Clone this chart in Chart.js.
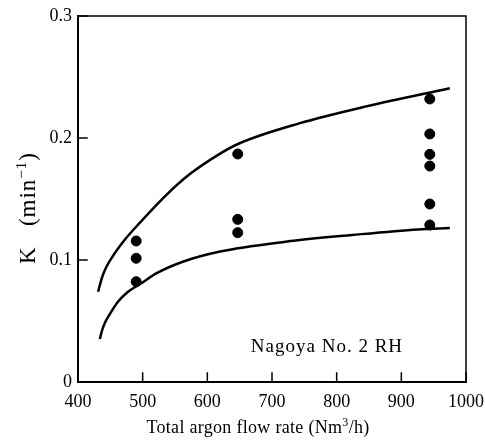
<!DOCTYPE html>
<html>
<head>
<meta charset="utf-8">
<script src="https://cdn.jsdelivr.net/npm/chart.js@4/dist/chart.umd.min.js"></script>
<style>
  html, body { margin: 0; padding: 0; background: #fff; }
  #wrap { width: 485px; height: 440px; }
</style>
</head>
<body>
<div id="wrap"><canvas id="kChart"></canvas></div>
<script>
// upper and lower bounding curves
const upperFlow = [431.2, 434.6, 438.5, 444.2, 456.9, 472.3, 492.8, 536, 572, 616, 649, 742, 844, 975];
const upperK    = [0.074, 0.0811, 0.0877, 0.0947, 0.1056, 0.1166, 0.1289, 0.153, 0.170, 0.186, 0.1955, 0.212, 0.2257, 0.2407];
const lowerFlow = [433.8, 436.9, 441.5, 449.2, 461.5, 476.9, 498, 521, 562, 618, 721, 824, 926, 975];
const lowerK    = [0.0352, 0.0418, 0.0484, 0.0557, 0.0656, 0.0738, 0.0809, 0.089, 0.0986, 0.1068, 0.115, 0.1205, 0.1251, 0.1262];

// measured points
const measFlow = [490, 490, 490, 647, 647, 647, 944, 944, 944, 944, 944, 944];
const measK    = [0.1156, 0.1014, 0.0822, 0.1869, 0.1333, 0.1224, 0.232, 0.2033, 0.1866, 0.177, 0.1459, 0.1287];

const xTicks = [400, 500, 600, 700, 800, 900, 1000];
const yTicks = [0, 0.1, 0.2, 0.3];
const yTickLabels = ['0', '0.1', '0.2', '0.3'];

const SERIF = '"Liberation Serif", "DejaVu Serif", serif';

const toPts = (xs, ys) => xs.map((x, i) => ({ x, y: ys[i] }));

// draw text runs centred on x, some of them as superscripts
function drawRuns(ctx, runs, size, x, y) {
  const fontFor = (r) => `${r.sup ? Math.round(size * 0.65) : size}px ${SERIF}`;
  let w = 0;
  runs.forEach((r) => { ctx.font = fontFor(r); w += ctx.measureText(r.t).width; });
  let cx = x - w / 2;
  runs.forEach((r) => {
    ctx.font = fontFor(r);
    ctx.fillText(r.t, cx, r.sup ? y - size * 0.4 : y);
    cx += ctx.measureText(r.t).width;
  });
}

const framePlugin = {
  id: 'frame',
  afterDraw(chart) {
    const { ctx, chartArea: a, scales } = chart;
    ctx.save();
    ctx.strokeStyle = '#000';
    ctx.fillStyle = '#000';
    ctx.lineCap = 'square';

    // left + bottom axes heavier, top + right lighter
    ctx.lineWidth = 2;
    ctx.beginPath();
    ctx.moveTo(a.left, a.top); ctx.lineTo(a.left, a.bottom); ctx.lineTo(a.right, a.bottom);
    ctx.stroke();
    ctx.lineWidth = 1.5;
    ctx.beginPath();
    ctx.moveTo(a.left, a.top); ctx.lineTo(a.right, a.top); ctx.lineTo(a.right, a.bottom);
    ctx.stroke();

    // inward tick marks
    ctx.beginPath();
    xTicks.forEach((v) => {
      const px = scales.x.getPixelForValue(v);
      ctx.moveTo(px, a.bottom); ctx.lineTo(px, a.bottom - 9);
    });
    yTicks.forEach((v) => {
      const py = scales.y.getPixelForValue(v);
      ctx.moveTo(a.left, py); ctx.lineTo(a.left + 9, py);
    });
    ctx.stroke();

    // label inside the plot
    ctx.textBaseline = 'middle';
    ctx.textAlign = 'center';
    ctx.letterSpacing = '1px';
    ctx.font = `19px ${SERIF}`;
    ctx.fillText('Nagoya No. 2 RH', scales.x.getPixelForValue(785), scales.y.getPixelForValue(0.029));

    // axis titles
    ctx.textAlign = 'left';
    ctx.textBaseline = 'alphabetic';
    ctx.letterSpacing = '0.3px';
    drawRuns(ctx, [{ t: 'Total argon flow rate (Nm' }, { t: '3', sup: true }, { t: '/h)' }], 18, 258, 433);

    ctx.letterSpacing = '1px';
    ctx.translate(35, 208);
    ctx.rotate(-Math.PI / 2);
    drawRuns(ctx, [{ t: 'K   (min' }, { t: '\u22121', sup: true }, { t: ')' }], 23, 0, 0);
    ctx.restore();
  },
};

new Chart(document.getElementById('kChart'), {
  type: 'scatter',
  data: {
    datasets: [
      {
        label: 'upper',
        type: 'line',
        data: toPts(upperFlow, upperK),
        borderColor: '#000',
        borderWidth: 2.5,
        pointRadius: 0,
        fill: false,
        cubicInterpolationMode: 'monotone',
      },
      {
        label: 'lower',
        type: 'line',
        data: toPts(lowerFlow, lowerK),
        borderColor: '#000',
        borderWidth: 2.5,
        pointRadius: 0,
        fill: false,
        cubicInterpolationMode: 'monotone',
      },
      {
        label: 'measured',
        data: toPts(measFlow, measK),
        backgroundColor: '#000',
        borderColor: '#000',
        pointRadius: 5,
        pointHoverRadius: 5,
      },
    ],
  },
  options: {
    responsive: true,
    maintainAspectRatio: false,
    animation: false,
    layout: { padding: { top: 16, right: 19, left: 0, bottom: 0 } },
    plugins: { legend: { display: false }, tooltip: { enabled: false } },
    scales: {
      x: {
        type: 'linear',
        min: 400,
        max: 1000,
        afterBuildTicks: (s) => { s.ticks = xTicks.map((v) => ({ value: v })); },
        afterFit: (s) => { s.height = 58; s.paddingLeft = 0; s.paddingRight = 0; },
        grid: { display: false, drawTicks: false },
        border: { display: false },
        ticks: {
          color: '#000',
          font: { family: SERIF, size: 18 },
          padding: 9,
          maxRotation: 0,
          callback: (v) => String(v),
        },
      },
      y: {
        min: 0,
        max: 0.3,
        afterBuildTicks: (s) => { s.ticks = yTicks.map((v) => ({ value: v })); },
        afterFit: (s) => { s.width = 78; s.paddingTop = 0; s.paddingBottom = 0; },
        grid: { display: false, drawTicks: false },
        border: { display: false },
        ticks: {
          color: '#000',
          font: { family: SERIF, size: 18 },
          padding: 6,
          callback: (v) => yTickLabels[yTicks.indexOf(v)] ?? '',
        },
      },
    },
  },
  plugins: [framePlugin],
});
</script>
</body>
</html>
